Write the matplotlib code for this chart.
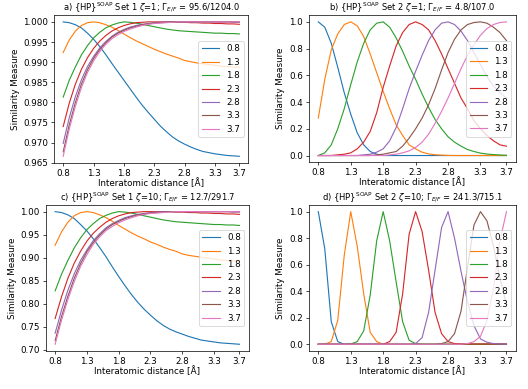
"""Similarity measure vs interatomic distance, {HP}^SOAP sets 1/2 with zeta = 1 and 10."""
import matplotlib
matplotlib.use("Agg")
import matplotlib.pyplot as plt

dist = [0.8, 0.9, 1.0, 1.1, 1.2, 1.3, 1.4, 1.5, 1.6, 1.7, 1.8, 1.9, 2.0, 2.1, 2.2,
        2.3, 2.4, 2.5, 2.6, 2.7, 2.8, 2.9, 3.0, 3.1, 3.2, 3.3, 3.4, 3.5, 3.6, 3.7]
ref_labels = ["0.8", "1.3", "1.8", "2.3", "2.8", "3.3", "3.7"]
xticks = [0.8, 1.3, 1.8, 2.3, 2.8, 3.3, 3.7]

# (a) Set 1, zeta=1
a_08 = [1.0, 0.9998, 0.9993, 0.9985, 0.9972, 0.9957, 0.9939, 0.9919, 0.9897, 0.9876,
        0.9855, 0.9834, 0.9813, 0.9793, 0.9775, 0.9758, 0.9741, 0.9727, 0.9714, 0.9704,
        0.9696, 0.9689, 0.9683, 0.9678, 0.9675, 0.9672, 0.9670, 0.9668, 0.9667, 0.9666]
a_13 = [0.9924, 0.9955, 0.9977, 0.9991, 0.9998, 1.0, 0.9998, 0.9993, 0.9987, 0.9979,
        0.9970, 0.9961, 0.9953, 0.9946, 0.9939, 0.9932, 0.9926, 0.9920, 0.9915, 0.9910,
        0.9904, 0.9901, 0.9898, 0.9896, 0.9894, 0.9892, 0.9890, 0.9889, 0.9888, 0.9887]
a_18 = [0.9813, 0.9855, 0.9888, 0.9918, 0.9941, 0.9960, 0.9974, 0.9985, 0.9992, 0.9997,
        1.0, 0.9999, 0.9997, 0.9994, 0.9991, 0.9988, 0.9985, 0.9982, 0.9980, 0.9978,
        0.9977, 0.9976, 0.9975, 0.9974, 0.9973, 0.9972, 0.9972, 0.9971, 0.9971, 0.9970]
a_23 = [0.9740, 0.9798, 0.9845, 0.9882, 0.9911, 0.9934, 0.9952, 0.9966, 0.9977, 0.9985,
        0.9991, 0.9995, 0.9998, 0.9999, 1.0, 1.0, 1.0, 1.0, 1.0, 0.9999,
        0.9999, 0.9998, 0.9998, 0.9997, 0.9997, 0.9996, 0.9996, 0.9995, 0.9995, 0.9994]
a_28 = [0.9698, 0.9762, 0.9814, 0.9856, 0.9889, 0.9914, 0.9935, 0.9951, 0.9964, 0.9974,
        0.9981, 0.9987, 0.9991, 0.9994, 0.9996, 0.9998, 0.9999, 1.0, 1.0, 1.0,
        1.0, 1.0, 1.0, 1.0, 1.0, 1.0, 1.0, 1.0, 0.9999, 0.9999]
a_33 = [0.9677, 0.9744, 0.9799, 0.9845, 0.9881, 0.9909, 0.9931, 0.9948, 0.9962, 0.9972,
        0.9979, 0.9985, 0.9989, 0.9993, 0.9995, 0.9997, 0.9998, 0.9999, 1.0, 1.0,
        1.0, 1.0, 1.0, 1.0, 1.0, 1.0, 1.0, 1.0, 1.0, 1.0]
a_37 = [0.9666, 0.9734, 0.9790, 0.9837, 0.9874, 0.9903, 0.9926, 0.9944, 0.9958, 0.9968,
        0.9976, 0.9982, 0.9987, 0.9991, 0.9994, 0.9996, 0.9997, 0.9998, 0.9999, 1.0,
        1.0, 1.0, 1.0, 1.0, 1.0, 1.0, 1.0, 1.0, 1.0, 1.0]

# (b) Set 2, zeta=1
b_08 = [1.0, 0.96, 0.84, 0.66, 0.47, 0.31, 0.17, 0.08, 0.03, 0.01,
        0.0, 0.0, 0.0, 0.0, 0.0, 0.0, 0.0, 0.0, 0.0, 0.0,
        0.0, 0.0, 0.0, 0.0, 0.0, 0.0, 0.0, 0.0, 0.0, 0.0]
b_13 = [0.28, 0.57, 0.79, 0.91, 0.98, 1.0, 0.97, 0.89, 0.76, 0.62,
        0.48, 0.35, 0.23, 0.15, 0.08, 0.05, 0.025, 0.012, 0.006, 0.003,
        0.001, 0.0, 0.0, 0.0, 0.0, 0.0, 0.0, 0.0, 0.0, 0.0]
b_18 = [0.0, 0.02, 0.08, 0.2, 0.35, 0.53, 0.7, 0.84, 0.94, 0.99,
        1.0, 0.96, 0.88, 0.78, 0.67, 0.57, 0.46, 0.36, 0.27, 0.2,
        0.14, 0.1, 0.07, 0.045, 0.03, 0.018, 0.011, 0.007, 0.004, 0.002]
b_23 = [0.0, 0.0, 0.0, 0.005, 0.01, 0.02, 0.05, 0.1, 0.18, 0.32,
        0.51, 0.67, 0.82, 0.92, 0.98, 1.0, 0.98, 0.94, 0.86, 0.76,
        0.65, 0.54, 0.43, 0.35, 0.26, 0.2, 0.15, 0.11, 0.08, 0.07]
b_28 = [0.0, 0.0, 0.0, 0.0, 0.0, 0.0, 0.0, 0.005, 0.01, 0.025,
        0.05, 0.11, 0.21, 0.35, 0.5, 0.63, 0.75, 0.86, 0.94, 0.99,
        1.0, 0.98, 0.93, 0.86, 0.77, 0.68, 0.59, 0.52, 0.47, 0.43]
b_33 = [0.0, 0.0, 0.0, 0.0, 0.0, 0.0, 0.0, 0.0, 0.0, 0.005,
        0.01, 0.02, 0.03, 0.07, 0.13, 0.2, 0.28, 0.38, 0.5, 0.64,
        0.77, 0.87, 0.94, 0.98, 0.995, 1.0, 0.99, 0.96, 0.92, 0.86]
b_37 = [0.0, 0.0, 0.0, 0.0, 0.0, 0.0, 0.0, 0.0, 0.0, 0.0,
        0.0, 0.005, 0.01, 0.02, 0.035, 0.06, 0.1, 0.16, 0.24, 0.33,
        0.43, 0.54, 0.65, 0.75, 0.83, 0.9, 0.95, 0.98, 0.995, 1.0]

# (c) Set 1, zeta=10
c_08 = [1.0, 0.998, 0.993, 0.985, 0.972, 0.958, 0.941, 0.922, 0.902, 0.880,
        0.859, 0.839, 0.820, 0.803, 0.788, 0.775, 0.763, 0.753, 0.745, 0.739,
        0.734, 0.729, 0.725, 0.721, 0.719, 0.717, 0.715, 0.714, 0.713, 0.712]
c_13 = [0.927, 0.956, 0.977, 0.991, 0.998, 1.0, 0.998, 0.993, 0.987, 0.979,
        0.970, 0.962, 0.954, 0.947, 0.941, 0.934, 0.929, 0.923, 0.918, 0.914,
        0.908, 0.905, 0.903, 0.901, 0.899, 0.897, 0.895, 0.894, 0.893, 0.892]
c_18 = [0.828, 0.864, 0.894, 0.921, 0.943, 0.961, 0.974, 0.985, 0.992, 0.997,
        1.0, 0.999, 0.997, 0.994, 0.991, 0.988, 0.985, 0.982, 0.980, 0.978,
        0.977, 0.976, 0.975, 0.974, 0.973, 0.972, 0.972, 0.971, 0.971, 0.970]
c_23 = [0.768, 0.815, 0.855, 0.888, 0.914, 0.936, 0.953, 0.966, 0.977, 0.985,
        0.991, 0.995, 0.998, 0.999, 1.0, 1.0, 1.0, 1.0, 1.0, 0.999,
        0.999, 0.998, 0.998, 0.997, 0.997, 0.996, 0.996, 0.995, 0.995, 0.994]
c_28 = [0.736, 0.786, 0.829, 0.865, 0.894, 0.917, 0.937, 0.952, 0.965, 0.974,
        0.981, 0.987, 0.991, 0.994, 0.996, 0.998, 0.999, 1.0, 1.0, 1.0,
        1.0, 1.0, 1.0, 1.0, 1.0, 1.0, 1.0, 1.0, 0.999, 0.999]
c_33 = [0.720, 0.772, 0.816, 0.855, 0.887, 0.913, 0.933, 0.949, 0.962, 0.972,
        0.979, 0.985, 0.989, 0.993, 0.995, 0.997, 0.998, 0.999, 1.0, 1.0,
        1.0, 1.0, 1.0, 1.0, 1.0, 1.0, 1.0, 1.0, 1.0, 1.0]
c_37 = [0.712, 0.764, 0.809, 0.848, 0.881, 0.907, 0.929, 0.945, 0.959, 0.968,
        0.976, 0.982, 0.987, 0.991, 0.994, 0.996, 0.997, 0.998, 0.999, 1.0,
        1.0, 1.0, 1.0, 1.0, 1.0, 1.0, 1.0, 1.0, 1.0, 1.0]

# (d) Set 2, zeta=10
d_08 = [1.0, 0.72, 0.17, 0.02, 0.0, 0.0, 0.0, 0.0, 0.0, 0.0,
        0.0, 0.0, 0.0, 0.0, 0.0, 0.0, 0.0, 0.0, 0.0, 0.0,
        0.0, 0.0, 0.0, 0.0, 0.0, 0.0, 0.0, 0.0, 0.0, 0.0]
d_13 = [0.0, 0.0, 0.02, 0.18, 0.67, 1.0, 0.74, 0.38, 0.09, 0.02,
        0.0, 0.0, 0.0, 0.0, 0.0, 0.0, 0.0, 0.0, 0.0, 0.0,
        0.0, 0.0, 0.0, 0.0, 0.0, 0.0, 0.0, 0.0, 0.0, 0.0]
d_18 = [0.0, 0.0, 0.0, 0.0, 0.0, 0.002, 0.02, 0.1, 0.37, 0.78,
        1.0, 0.78, 0.47, 0.17, 0.03, 0.005, 0.0, 0.0, 0.0, 0.0,
        0.0, 0.0, 0.0, 0.0, 0.0, 0.0, 0.0, 0.0, 0.0, 0.0]
d_23 = [0.0, 0.0, 0.0, 0.0, 0.0, 0.0, 0.0, 0.0, 0.0, 0.0,
        0.0, 0.02, 0.09, 0.38, 0.83, 1.0, 0.85, 0.56, 0.24, 0.08,
        0.02, 0.005, 0.002, 0.002, 0.002, 0.002, 0.002, 0.002, 0.002, 0.002]
d_28 = [0.0, 0.0, 0.0, 0.0, 0.0, 0.0, 0.0, 0.0, 0.0, 0.0,
        0.0, 0.0, 0.0, 0.0, 0.0, 0.005, 0.05, 0.24, 0.56, 0.88,
        1.0, 0.8, 0.55, 0.32, 0.14, 0.04, 0.015, 0.005, 0.002, 0.001]
d_33 = [0.0, 0.0, 0.0, 0.0, 0.0, 0.0, 0.0, 0.0, 0.0, 0.0,
        0.0, 0.0, 0.0, 0.0, 0.0, 0.0, 0.0, 0.0, 0.0, 0.005,
        0.02, 0.08, 0.25, 0.58, 0.9, 1.0, 0.93, 0.74, 0.5, 0.3]
d_37 = [0.0, 0.0, 0.0, 0.0, 0.0, 0.0, 0.0, 0.0, 0.0, 0.0,
        0.0, 0.0, 0.0, 0.0, 0.0, 0.0, 0.0, 0.0, 0.0, 0.0,
        0.0, 0.0, 0.0, 0.005, 0.02, 0.06, 0.18, 0.42, 0.78, 1.0]

panels = [
    ("a) {HP}$^{\\mathrm{SOAP}}$ Set 1 $\\zeta$=1; $\\Gamma_{E/F}$ = 95.6/1204.0",
     [a_08, a_13, a_18, a_23, a_28, a_33, a_37], [0.103, 0.581, 0.367, 0.380]),
    ("b) {HP}$^{\\mathrm{SOAP}}$ Set 2 $\\zeta$=1; $\\Gamma_{E/F}$ = 4.8/107.0",
     [b_08, b_13, b_18, b_23, b_28, b_33, b_37], [0.585, 0.583, 0.392, 0.378]),
    ("c) {HP}$^{\\mathrm{SOAP}}$ Set 1 $\\zeta$=10; $\\Gamma_{E/F}$ = 12.7/291.7",
     [c_08, c_13, c_18, c_23, c_28, c_33, c_37], [0.087, 0.098, 0.384, 0.375]),
    ("d) {HP}$^{\\mathrm{SOAP}}$ Set 2 $\\zeta$=10; $\\Gamma_{E/F}$ = 241.3/715.1",
     [d_08, d_13, d_18, d_23, d_28, d_33, d_37], [0.585, 0.098, 0.392, 0.375]),
]

fig = plt.figure(figsize=(528 / 63, 389 / 63), dpi=63)
for title, curves, rect in panels:
    ax = fig.add_axes(rect)
    for lab, ys in zip(ref_labels, curves):
        ax.plot(dist, ys, label=lab, lw=1.3)
    ax.set_xticks(xticks)
    ax.set_xlabel("Interatomic distance [Å]", labelpad=0)
    ax.set_ylabel("Similarity Measure")
    ax.set_title(title, fontsize=9.5, pad=3)
    ax.legend(loc="center right")

fig.savefig("out.png", dpi=63)
